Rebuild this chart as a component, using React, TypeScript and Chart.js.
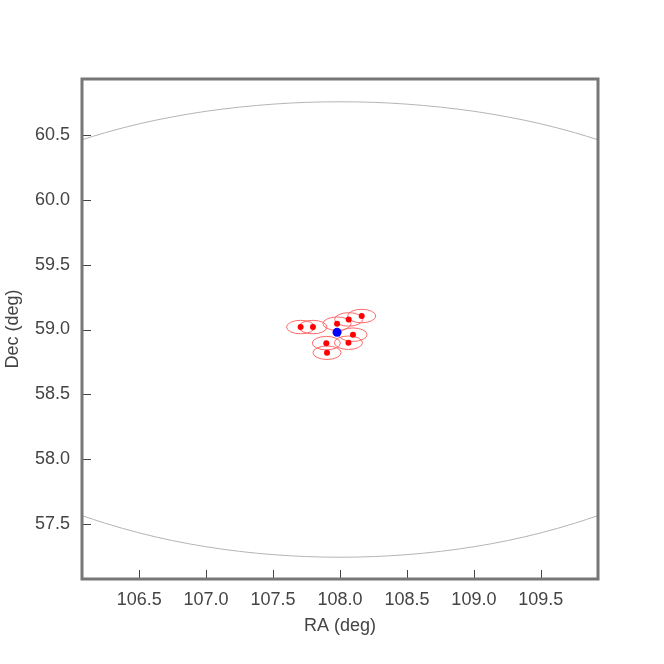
import React, { useEffect, useRef } from "react";
import { Chart, registerables } from "chart.js";

Chart.register(...registerables);

// Axis ranges and ticks
const RA_MIN = 106.073;
const RA_MAX = 109.927;
const DEC_MIN = 57.075;
const DEC_MAX = 60.933;
const X_TICKS = [106.5, 107.0, 107.5, 108.0, 108.5, 109.0, 109.5];
const Y_TICKS = [57.5, 58.0, 58.5, 59.0, 59.5, 60.0, 60.5];

// Field-of-view boundary (grey arcs)
const RA_ARC = [106.07, 106.25, 106.5, 106.75, 107.0, 107.25, 107.5, 107.75, 108.0, 108.25, 108.5, 108.75, 109.0, 109.25, 109.5, 109.75, 109.93];
const DEC_ARC_TOP = [60.463, 60.52, 60.587, 60.641, 60.684, 60.716, 60.739, 60.753, 60.757, 60.753, 60.739, 60.716, 60.684, 60.641, 60.587, 60.52, 60.463];
const DEC_ARC_BOTTOM = [57.565, 57.504, 57.431, 57.371, 57.324, 57.288, 57.263, 57.248, 57.243, 57.248, 57.263, 57.288, 57.324, 57.371, 57.431, 57.504, 57.565];

// Sources (red) and target (blue)
const SRC_RA = [107.706, 107.798, 107.978, 108.065, 108.162, 108.097, 108.063, 107.898, 107.903];
const SRC_DEC = [59.019, 59.019, 59.045, 59.078, 59.104, 58.96, 58.898, 58.895, 58.821];
const TARGET_RA = [107.978];
const TARGET_DEC = [58.978];

// Error ellipse semi-axes (deg)
const ELL_RA = 0.105;
const ELL_DEC = 0.052;

const FONT = "'Liberation Sans', Arial, sans-serif";
const TEXT_COLOR = "#444444";

const framePlugin = {
  id: "frame",
  beforeDatasetsDraw(chart: any) {
    const { ctx, chartArea, scales } = chart;
    const xs = scales.x;
    const ys = scales.y;
    ctx.save();
    ctx.beginPath();
    ctx.rect(chartArea.left, chartArea.top, chartArea.right - chartArea.left, chartArea.bottom - chartArea.top);
    ctx.clip();
    ctx.strokeStyle = "#ff6a6a";
    ctx.lineWidth = 1;
    for (let i = 0; i < SRC_RA.length; i++) {
      const cx = xs.getPixelForValue(SRC_RA[i]);
      const cy = ys.getPixelForValue(SRC_DEC[i]);
      const rx = Math.abs(xs.getPixelForValue(SRC_RA[i] + ELL_RA) - cx);
      const ry = Math.abs(ys.getPixelForValue(SRC_DEC[i] + ELL_DEC) - cy);
      ctx.beginPath();
      ctx.ellipse(cx, cy, rx, ry, 0, 0, Math.PI * 2);
      ctx.stroke();
    }
    ctx.restore();
  },
  afterDatasetsDraw(chart: any) {
    const { ctx, chartArea, scales } = chart;
    const xs = scales.x;
    const ys = scales.y;
    ctx.save();
    // inward ticks
    ctx.strokeStyle = "#444444";
    ctx.lineWidth = 1;
    const tl = 9;
    X_TICKS.forEach((v) => {
      const px = Math.round(xs.getPixelForValue(v)) + 0.5;
      ctx.beginPath();
      ctx.moveTo(px, chartArea.bottom);
      ctx.lineTo(px, chartArea.bottom - tl);
      ctx.stroke();
    });
    Y_TICKS.forEach((v) => {
      const py = Math.round(ys.getPixelForValue(v)) + 0.5;
      ctx.beginPath();
      ctx.moveTo(chartArea.left, py);
      ctx.lineTo(chartArea.left + tl, py);
      ctx.stroke();
    });
    // frame
    ctx.strokeStyle = "#777777";
    ctx.lineWidth = 3;
    ctx.strokeRect(chartArea.left, chartArea.top, chartArea.right - chartArea.left, chartArea.bottom - chartArea.top);
    ctx.restore();
  },
};

export default function App() {
  const ref = useRef<HTMLCanvasElement>(null);
  useEffect(() => {
    const canvas = ref.current;
    if (!canvas) return;
    const arcTop = RA_ARC.map((x, i) => ({ x, y: DEC_ARC_TOP[i] }));
    const arcBottom = RA_ARC.map((x, i) => ({ x, y: DEC_ARC_BOTTOM[i] }));
    const sources = SRC_RA.map((x, i) => ({ x, y: SRC_DEC[i] }));
    const target = TARGET_RA.map((x, i) => ({ x, y: TARGET_DEC[i] }));
    const chart = new Chart(canvas, {
      type: "scatter",
      data: {
        datasets: [
          { data: arcTop, showLine: true, borderColor: "#b4b4b4", borderWidth: 1, pointRadius: 0, cubicInterpolationMode: "monotone", fill: false } as any,
          { data: arcBottom, showLine: true, borderColor: "#b4b4b4", borderWidth: 1, pointRadius: 0, cubicInterpolationMode: "monotone", fill: false } as any,
          { data: sources, pointRadius: 3, pointBackgroundColor: "#ff0000", pointBorderWidth: 0, borderColor: "#ff0000" },
          { data: target, pointRadius: 4.5, pointBackgroundColor: "#0000ff", pointBorderWidth: 0, borderColor: "#0000ff" },
        ],
      },
      options: {
        responsive: false,
        animation: false,
        devicePixelRatio: 1,
        layout: { padding: { left: 0, right: 66, top: 79, bottom: 0 } },
        plugins: { legend: { display: false }, tooltip: { enabled: false } },
        scales: {
          x: {
            type: "linear",
            min: RA_MIN,
            max: RA_MAX,
            afterBuildTicks: (s: any) => {
              s.ticks = X_TICKS.map((v) => ({ value: v }));
            },
            afterFit: (s: any) => {
              s.height = 85;
            },
            grid: { display: false, drawTicks: false },
            border: { display: false },
            ticks: {
              padding: 10,
              color: TEXT_COLOR,
              font: { family: FONT, size: 18 },
              maxRotation: 0,
              autoSkip: false,
              callback: (v: any) => Number(v).toFixed(1),
            },
            title: {
              display: true,
              text: "RA (deg)",
              color: TEXT_COLOR,
              font: { family: FONT, size: 18 },
              padding: { top: 0, bottom: 27 },
            },
          },
          y: {
            type: "linear",
            min: DEC_MIN,
            max: DEC_MAX,
            afterBuildTicks: (s: any) => {
              s.ticks = Y_TICKS.map((v) => ({ value: v }));
            },
            afterFit: (s: any) => {
              s.width = 82;
            },
            grid: { display: false, drawTicks: false },
            border: { display: false },
            ticks: {
              padding: 12,
              color: TEXT_COLOR,
              font: { family: FONT, size: 18 },
              autoSkip: false,
              callback: (v: any) => Number(v).toFixed(1),
            },
            title: {
              display: true,
              text: "Dec (deg)",
              color: TEXT_COLOR,
              font: { family: FONT, size: 18 },
              padding: { top: 2, bottom: 0 },
            },
          },
        },
      },
      plugins: [framePlugin],
    });
    return () => chart.destroy();
  }, []);
  return (
    <div style={{ position: "fixed", left: 0, top: 0, width: 664, height: 664, background: "#ffffff" }}>
      <canvas ref={ref} width={664} height={664} style={{ display: "block", width: 664, height: 664 }} />
    </div>
  );
}
